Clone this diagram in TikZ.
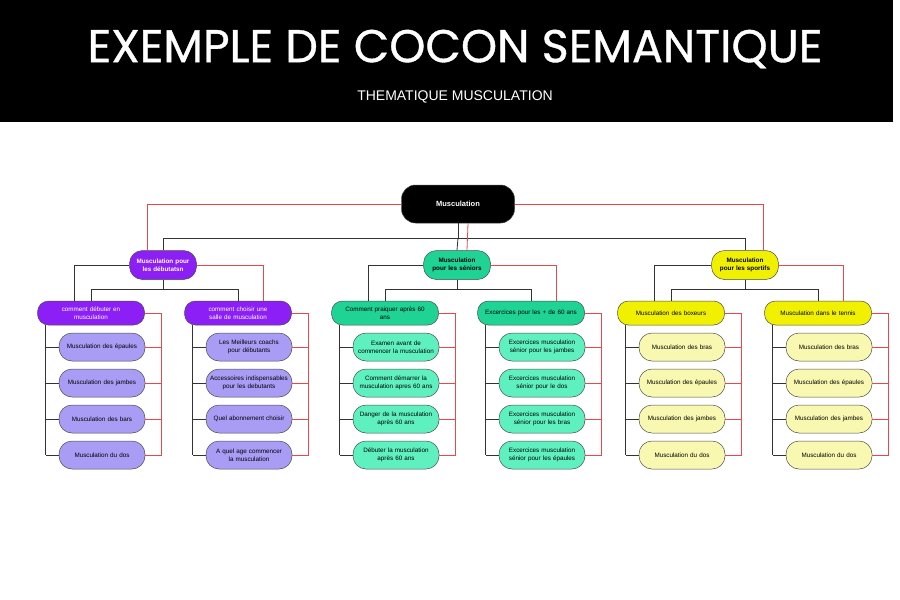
\documentclass[tikz,border=0pt]{standalone}
\usepackage{fontspec}
\setmainfont{Liberation Sans}
\newfontfamily\titlefont[FakeBold=0.8]{Poppins}
\usetikzlibrary{calc}
\hyphenpenalty=10000
\exhyphenpenalty=10000
\definecolor{purA}{HTML}{8B1FF5}
\definecolor{purB}{HTML}{A99CF5}
\definecolor{grnA}{HTML}{1ED394}
\definecolor{grnB}{HTML}{5FF0C0}
\definecolor{yelA}{HTML}{F0F000}
\definecolor{yelB}{HTML}{F8F8B0}
\definecolor{redl}{HTML}{E8474C}
\tikzset{
 base/.style={draw=black!70,line width=0.5pt,align=center,inner sep=1pt,font=\fontsize{6.3}{7.5}\selectfont},
 lone/.style={base,minimum width=67,minimum height=29,text width=64,rounded corners=13,font=\bfseries\fontsize{6.3}{7.5}\selectfont},
 ltwo/.style={base,minimum width=107,minimum height=24,text width=96,rounded corners=11},
 leaf/.style={base,minimum width=86,minimum height=28,text width=84,rounded corners=13},
 blk/.style={draw=black!80,line width=0.8pt},
 rd/.style={draw=redl,line width=0.8pt},
}
\newcommand\mygroup[7]{%
 \node[ltwo,#4] (#1) at (#2,-313) {#6};
 \foreach \t [count=\i] in {#7} {\node[leaf,#5] (#1-\i) at (#3,-347-36*\i+36) {\t};}
 \coordinate (#1-b) at ($(#1-1.west)+(-13,0)$);
 \coordinate (#1-r) at ($(#1.east)+(17,0)$);
 \draw[blk] (#1-b |- #1.south) -- (#1-b |- #1-4.west);
 \draw[rd] (#1.east) -- (#1-r) -- (#1-r |- #1-4.east);
 \foreach \i in {1,...,4} {\draw[blk] (#1-\i.west) -- (#1-b |- #1-\i.west); \draw[rd] (#1-\i.east) -- (#1-r |- #1-\i.east);}
}
\newcommand\mytop[3]{%
 \draw[blk] (#1.west) -| ($(#2.north)+(-17,0)$);
 \draw[rd] (#1.east) -| ($(#3.north)+(25,0)$);
 \draw[blk] (#1.south) -- ++(0,-10) coordinate (#1-m);
 \draw[blk] (#2.north) |- (#1-m) -| (#3.north);
}
\begin{document}
\begin{tikzpicture}[x=1pt,y=1pt]
\useasboundingbox (0,0) rectangle (900,-600);
\fill[white] (0,0) rectangle (900,-600);
\fill[black] (0,0) rectangle (893,-122);
\node[text=white,font=\titlefont\fontsize{46}{50}\selectfont] (title) at (455,-49) {EXEMPLE DE COCON SEMANTIQUE};
\node[text=white,font=\fontsize{14}{16}\selectfont] (sub) at (455,-97) {THEMATIQUE MUSCULATION};
\node[base,fill=black,text=white,minimum width=113,minimum height=38,rounded corners=14,font=\bfseries\fontsize{7.5}{9}\selectfont] (root) at (458,-204) {Musculation};
\node[lone,fill=purA,text=white] (deb) at (163,-265) {Musculation pour les débutatsn};
\node[lone,fill=grnA] (sen) at (457,-265) {Musculation pour les séniors};
\node[lone,fill=yelA] (spo) at (745,-265) {Musculation pour les sportifs};
\draw[rd] (root.west) -| ($(deb.north)+(-16,0)$);
\draw[rd] (root.east) -| ($(spo.north)+(18,0)$);
\draw[blk] (root.south) -- ++(0,-15) coordinate (rm);
\draw[blk] (deb.north) |- (rm) -| (spo.north);
\draw[blk] (rm) -- (sen.north);
\draw[rd] ($(root.south)+(10,0)$) -- ($(sen.north)+(10,0)$);
\mygroup{d1}{91}{102}{fill=purA,text=white}{fill=purB}{comment débuter en\\ musculation}{Musculation des épaules,Musculation des jambes,Musculation des bars,Musculation du dos}
\mygroup{d2}{238}{249}{fill=purA,text=white}{fill=purB}{comment choisir une salle de musculation}{Les Meilleurs coachs pour débutants,Accessoires indispensables pour les debutants,Quel abonnement choisir,A quel age commencer la musculation}
\mygroup{s1}{385}{396}{fill=grnA}{fill=grnB}{Comment praiquer après 60\\ ans}{Examen avant de commencer la musculation,Comment démarrer la musculation apres 60 ans,Danger de la musculation après 60 ans,Débuter la musculation après 60 ans}
\mygroup{s2}{531}{542}{fill=grnA}{fill=grnB}{Excercices pour les + de 60 ans}{Excercices musculation sénior pour les jambes,Excercices musculation sénior pour le dos,Excercices musculation sénior pour les bras,Excercices musculation sénior pour les épaules}
\mygroup{p1}{671}{682}{fill=yelA}{fill=yelB}{Musculation des boxeurs}{Musculation des bras,Musculation des épaules,Musculation des jambes,Musculation du dos}
\mygroup{p2}{818}{829}{fill=yelA}{fill=yelB}{Musculation dans le tennis}{Musculation des bras,Musculation des épaules,Musculation des jambes,Musculation du dos}
\mytop{deb}{d1}{d2}
\mytop{sen}{s1}{s2}
\mytop{spo}{p1}{p2}
\end{tikzpicture}
\end{document}
